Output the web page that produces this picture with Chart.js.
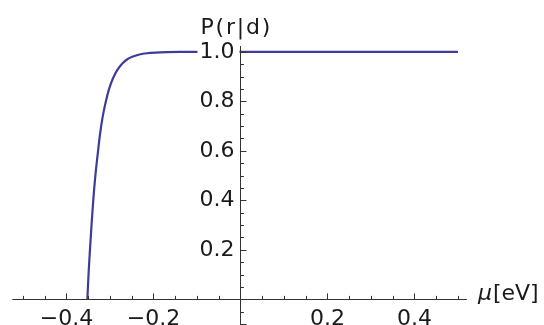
<!DOCTYPE html>
<html>
<head>
<meta charset="utf-8">
<script src="https://cdn.jsdelivr.net/npm/chart.js@4"></script>
<style>
  html, body { margin: 0; padding: 0; background: #ffffff; }
  #wrap { width: 544px; height: 325px; position: relative; }
</style>
</head>
<body>
<div id="wrap"><canvas id="c" width="544" height="325"></canvas></div>
<script>
// ---- data ----
const muValues   = [-0.352, -0.349, -0.346, -0.342, -0.338, -0.333, -0.328, -0.323, -0.317, -0.310, -0.302, -0.293, -0.283, -0.272, -0.260, -0.247, -0.232, -0.215, -0.195, -0.170, -0.140, -0.100, 0.0, 0.1, 0.2, 0.3, 0.4, 0.5];
const probValues = [0.000, 0.110, 0.200, 0.310, 0.410, 0.510, 0.590, 0.665, 0.735, 0.795, 0.850, 0.893, 0.927, 0.952, 0.970, 0.981, 0.989, 0.994, 0.997, 0.999, 1.000, 1.000, 1.0, 1.0, 1.0, 1.0, 1.0, 1.0];

const xMajorTicks  = [-0.4, -0.2, 0.2, 0.4];
const xTickLabels  = ["\u22120.4", "\u22120.2", "0.2", "0.4"];
const xMinorTicks  = [-0.5, -0.45, -0.35, -0.3, -0.25, -0.15, -0.1, -0.05, 0.05, 0.1, 0.15, 0.25, 0.3, 0.35, 0.45, 0.5];
const yMajorTicks  = [0.2, 0.4, 0.6, 0.8, 1.0];
const yTickLabels  = ["0.2", "0.4", "0.6", "0.8", "1.0"];
const yMinorTicks  = [-0.05, 0.05, 0.1, 0.15, 0.25, 0.3, 0.35, 0.45, 0.5, 0.55, 0.65, 0.7, 0.75, 0.85, 0.9, 0.95];
const yExtraMajor  = [-0.1];
const xAxisTitle = "[eV]";
const xAxisSymbol = "\u03bc";
const yAxisTitle = "P(r|d)";

const points = muValues.map((m, i) => ({ x: m, y: probValues[i] }));

const FONT = '22px "DejaVu Sans"';
const AXIS_COLOR = '#333333';
const TEXT_COLOR = '#1a1a1a';

const axesPlugin = {
  id: 'mathAxes',
  afterDatasetsDraw(chart) {
    const ctx = chart.ctx;
    const xs = chart.scales.x, ys = chart.scales.y;
    const area = chart.chartArea;
    const x0 = xs.getPixelForValue(0);
    const y0 = ys.getPixelForValue(0);
    ctx.save();
    ctx.strokeStyle = AXIS_COLOR;
    ctx.lineWidth = 1;
    // axis lines
    ctx.beginPath();
    ctx.moveTo(area.left, Math.round(y0) + 0.5);
    ctx.lineTo(area.right, Math.round(y0) + 0.5);
    ctx.moveTo(Math.round(x0) + 0.5, area.top);
    ctx.lineTo(Math.round(x0) + 0.5, area.bottom);
    ctx.stroke();
    // x ticks (pointing up)
    ctx.beginPath();
    xMajorTicks.forEach(v => {
      const px = Math.round(xs.getPixelForValue(v)) + 0.5;
      ctx.moveTo(px, y0); ctx.lineTo(px, y0 - 6);
    });
    xMinorTicks.forEach(v => {
      const px = Math.round(xs.getPixelForValue(v)) + 0.5;
      ctx.moveTo(px, y0); ctx.lineTo(px, y0 - 3.5);
    });
    // y ticks (pointing right)
    yMajorTicks.concat(yExtraMajor).forEach(v => {
      const py = Math.round(ys.getPixelForValue(v)) + 0.5;
      ctx.moveTo(x0, py); ctx.lineTo(x0 + 6, py);
    });
    yMinorTicks.forEach(v => {
      const py = Math.round(ys.getPixelForValue(v)) + 0.5;
      ctx.moveTo(x0, py); ctx.lineTo(x0 + 3.5, py);
    });
    ctx.stroke();

    // labels
    ctx.font = FONT;
    ctx.fillStyle = TEXT_COLOR;
    ctx.textAlign = 'center';
    ctx.textBaseline = 'alphabetic';
    xMajorTicks.forEach((v, i) => {
      ctx.fillText(xTickLabels[i], xs.getPixelForValue(v), y0 + 26);
    });
    ctx.textAlign = 'right';
    ctx.textBaseline = 'middle';
    yMajorTicks.forEach((v, i) => {
      const py = ys.getPixelForValue(v);
      const w = ctx.measureText(yTickLabels[i]).width;
      ctx.fillStyle = '#ffffff';
      ctx.fillRect(x0 - 6 - w - 2, py - 10, w + 7, 20);
      ctx.fillStyle = TEXT_COLOR;
      ctx.fillText(yTickLabels[i], x0 - 6, py);
    });
    // axis titles
    ctx.textAlign = 'left';
    ctx.textBaseline = 'alphabetic';
    ctx.font = 'italic ' + FONT;
    ctx.fillText(xAxisSymbol, area.right + 11, y0 + 1);
    const mw = ctx.measureText(xAxisSymbol).width;
    ctx.font = FONT;
    ctx.fillText(xAxisTitle, area.right + 11 + mw + 1, y0 + 1);
    try { ctx.letterSpacing = '1.8px'; } catch (e) {}
    ctx.fillText(yAxisTitle, x0 - 40, 34);
    try { ctx.letterSpacing = '0px'; } catch (e) {}
    ctx.restore();
  }
};

new Chart(document.getElementById('c'), {
  type: 'line',
  data: {
    datasets: [{
      data: points,
      borderColor: 'rgb(61,61,153)',
      borderWidth: 2.2,
      pointRadius: 0,
      fill: false,
      cubicInterpolationMode: 'monotone'
    }]
  },
  options: {
    responsive: false,
    animation: false,
    devicePixelRatio: 1,
    layout: { padding: { left: 12.3, right: 77.1, top: 46, bottom: 0 } },
    plugins: { legend: { display: false }, tooltip: { enabled: false }, title: { display: false } },
    scales: {
      x: { type: 'linear', min: -0.5245, max: 0.5205, display: false },
      y: { type: 'linear', min: -0.1034, max: 1.0234, display: false }
    }
  },
  plugins: [axesPlugin]
});
</script>
</body>
</html>
